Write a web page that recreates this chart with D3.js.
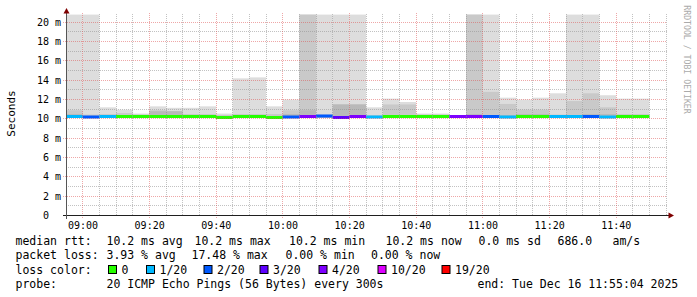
<!DOCTYPE html>
<html><head><meta charset="utf-8">
<script src="https://cdn.jsdelivr.net/npm/d3@7"></script>
<style>html,body{margin:0;padding:0;background:#fff;}svg{display:block;}text{font-family:"DejaVu Sans Mono",monospace;white-space:pre;}</style>
</head><body>
<script>
// ---- data ----
const binStarts = ["08:55","09:00","09:05","09:10","09:15","09:20","09:25","09:30","09:35","09:40","09:45","09:50","09:55",
  "10:00","10:05","10:10","10:15","10:20","10:25","10:30","10:35","10:40","10:45","10:50","10:55",
  "11:00","11:05","11:10","11:15","11:20","11:25","11:30","11:35","11:40","11:45"];
const medianMs = [10.25,10.2,10.25,10.25,10.25,10.25,10.25,10.25,10.25,10.15,10.25,10.25,10.15,
  10.2,10.25,10.3,10.15,10.25,10.2,10.25,10.25,10.25,10.25,10.25,10.25,
  10.25,10.2,10.25,10.25,10.25,10.25,10.25,10.2,10.25,10.25];
const lossLevel = [1,2,1,0,0,0,0,0,0,0,0,0,0,
  2,4,2,3,4,1,0,0,0,0,4,4,
  2,1,0,0,1,1,2,1,0,0];
const smokeMin = [10.1,10.1,10.1,10.1,10.1,10.1,10.1,10.1,10.1,10.1,10.1,10.1,10.1,
  10.1,10.1,10.1,10.1,10.1,10.1,10.1,10.1,10.1,10.1,10.1,10.1,
  10.1,10.1,10.1,10.1,10.1,10.1,10.1,10.1,10.1,10.1];
const smokeMax = [20.8,20.8,11.2,10.95,10.55,11.3,11.15,11.15,11.3,10.55,14.2,14.3,11.3,
  12.0,20.8,20.8,20.8,20.8,11.2,12.1,11.75,10.55,10.55,10.3,20.8,
  20.8,12.2,12.0,12.2,12.65,20.8,20.8,12.45,12.1,12.1];
const smokeMid = [10.9,10.45,10.5,10.6,10.45,10.9,10.8,10.5,10.5,10.4,10.5,10.5,10.5,
  10.9,20.8,10.45,11.5,11.5,10.4,11.5,11.5,10.45,10.45,10.3,20.8,
  12.8,11.55,10.95,10.95,10.45,11.85,12.65,11.2,10.5,10.5];
const smokeLow = [10.5,10.3,10.3,10.3,10.3,10.8,10.8,10.3,10.3,10.3,10.3,10.3,10.3,
  10.5,10.9,10.3,11.5,11.5,10.3,10.3,10.3,10.3,10.3,10.3,10.5,
  10.4,10.4,10.5,10.5,10.3,10.4,10.5,10.5,10.3,10.3];
const yTicks = [0,2,4,6,8,10,12,14,16,18,20];
const yTickLabels = ["0\u00a0\u00a0","2 m","4 m","6 m","8 m","10 m","12 m","14 m","16 m","18 m","20 m"];
const xTickLabels = ["09:00","09:20","09:40","10:00","10:20","10:40","11:00","11:20","11:40"];
const lossLabels = ["0","1/20","2/20","3/20","4/20","10/20","19/20"];
const lossColors = ["#26ff00","#00b8ff","#0059ff","#5e00ff","#7e00ff","#dd00ff","#ff0000"];
const rttLegend = ["median rtt:","10.2 ms avg","10.2 ms max","10.2 ms min","10.2 ms now","0.0 ms sd","686.0","am/s"];
const lossLegend = ["packet loss:","3.93 % avg","17.48 % max","0.00 % min","0.00 % now"];
const probeLegend = ["probe:","20 ICMP Echo Pings (56 Bytes) every 300s","end: Tue Dec 16 11:55:04 2025"];
const startTime = "08:55:04", endTime = "11:55:04";

// ---- layout ----
const W = 697, H = 297;
const svg = d3.select("body").append("svg").attr("width", W).attr("height", H);
svg.append("rect").attr("width", W).attr("height", H).attr("fill", "#fff");

const toDate = s => { const p = s.split(":").map(Number); return new Date(Date.UTC(2025, 11, 16, p[0], p[1], p[2] || 0)); };
const x = d3.scaleUtc().domain([toDate(startTime), toDate(endTime)]).range([66.25, 666.25]);
const y = d3.scaleLinear().domain([0, 20.8]).range([215.5, 14.6]);
const FIVE = 5 * 60 * 1000;

svg.append("clipPath").attr("id", "plot").append("rect")
  .attr("x", 67).attr("y", 14).attr("width", 600).attr("height", 201.5);
const plot = svg.append("g").attr("clip-path", "url(#plot)");

const bins = binStarts.map((s, i) => ({
  t0: toDate(s), t1: new Date(+toDate(s) + FIVE),
  med: medianMs[i], loss: lossLevel[i], min: smokeMin[i], max: smokeMax[i], mid: smokeMid[i], low: smokeLow[i]
}));

function layer(key, color) {
  plot.append("g").selectAll("rect").data(bins).join("rect")
    .attr("x", d => x(d.t0)).attr("width", d => x(d.t1) - x(d.t0))
    .attr("y", d => y(d[key])).attr("height", d => Math.max(0, y(d.min) - y(d[key])))
    .attr("fill", color);
}
layer("max", "#dddddd");
layer("mid", "#c9c9c9");
layer("low", "#b9b9b9");

// ---- grid ----
const snap = v => Math.round(v - 0.5) + 0.5;
const grid = svg.append("g").attr("stroke-dasharray", "1,1").attr("stroke-width", 1).attr("fill", "none");
const minorY = d3.range(1, 21, 2);
grid.selectAll("line.hy").data(minorY).join("line")
  .attr("x1", 66).attr("x2", 667).attr("y1", d => snap(y(d))).attr("y2", d => snap(y(d)))
  .attr("stroke", "rgba(143,143,143,0.55)");
const minorX = x.ticks(d3.utcMinute.every(5)).filter(d => d.getUTCMinutes() % 20 !== 0);
grid.selectAll("line.vx").data(minorX).join("line")
  .attr("x1", d => snap(x(d))).attr("x2", d => snap(x(d))).attr("y1", 215).attr("y2", 13)
  .attr("stroke", "rgba(143,143,143,0.55)");
grid.selectAll("line.my").data(yTicks.filter(d => d > 0)).join("line")
  .attr("x1", 63).attr("x2", 667).attr("y1", d => snap(y(d))).attr("y2", d => snap(y(d)))
  .attr("stroke", "rgba(222,80,80,0.5)");
const majorX = x.ticks(d3.utcMinute.every(20));
grid.selectAll("line.mx").data(majorX).join("line")
  .attr("x1", d => snap(x(d))).attr("x2", d => snap(x(d))).attr("y1", 218).attr("y2", 13)
  .attr("stroke", "rgba(222,80,80,0.5)");

// ---- median ----
plot.append("g").selectAll("line").data(bins).join("line")
  .attr("x1", d => x(d.t0)).attr("x2", d => x(d.t1))
  .attr("y1", d => y(d.med)).attr("y2", d => y(d.med))
  .attr("stroke", d => lossColors[d.loss]).attr("stroke-width", 3);

// ---- axes ----
svg.append("line").attr("x1", 63).attr("x2", 669).attr("y1", 215.5).attr("y2", 215.5).attr("stroke", "#1f1f1f");
svg.append("line").attr("x1", 66.5).attr("x2", 66.5).attr("y1", 219).attr("y2", 12).attr("stroke", "#555");
svg.append("path").attr("d", "M66.5,8 L63.5,13.5 L69.5,13.5 Z").attr("fill", "#7f0000");
svg.append("path").attr("d", "M674,215.5 L668.5,212.5 L668.5,218.5 Z").attr("fill", "#7f0000");

// y labels
svg.append("g").selectAll("text").data(yTicks).join("text")
  .attr("x", 61).attr("y", d => y(d) + 3.5).attr("text-anchor", "end")
  .attr("font-size", 10).attr("fill", "#000").text((d, i) => yTickLabels[i]);
// x labels
svg.append("g").selectAll("text").data(xTickLabels).join("text")
  .attr("x", d => x(toDate(d)) + 0.3).attr("y", 229).attr("text-anchor", "middle")
  .attr("font-size", 10).attr("fill", "#000").text(d => d);

svg.append("text").attr("transform", "translate(15,113.5) rotate(-90)").attr("text-anchor", "middle")
  .attr("font-size", 11).attr("fill", "#000").text("Seconds");
svg.append("text").attr("transform", "translate(684,59.5) rotate(90)").attr("text-anchor", "middle")
  .attr("font-size", 8.2).attr("fill", "#aaaaaa").text("RRDTOOL / TOBI OETIKER");

// ---- legend ----
const FS = 11.5;
const leg = svg.append("g").attr("font-size", FS).attr("fill", "#000");
const rttX = [15.5, 106.5, 194.5, 289, 385.5, 478.5, 557.5, 612.5];
rttLegend.forEach((t, i) => leg.append("text").attr("x", rttX[i]).attr("y", 245).text(t));
const lossX = [15.5, 106.5, 191.5, 285.5, 371];
lossLegend.forEach((t, i) => leg.append("text").attr("x", lossX[i]).attr("y", 259).text(t));
leg.append("text").attr("x", 15.5).attr("y", 273.5).text("loss color:");
const boxX = [108, 146, 203.5, 259.5, 318.5, 377.5, 441.5];
lossLabels.forEach((t, i) => {
  leg.append("rect").attr("x", boxX[i] + 0.5).attr("y", 265.5).attr("width", 8).attr("height", 8)
    .attr("fill", lossColors[i]).attr("stroke", "#000").attr("stroke-width", 1);
  leg.append("text").attr("x", boxX[i] + 13.5).attr("y", 273.5).text(t);
});
const probeX = [15.5, 106.5, 477.5];
probeLegend.forEach((t, i) => leg.append("text").attr("x", probeX[i]).attr("y", 288).text(t));
</script>
</body></html>
